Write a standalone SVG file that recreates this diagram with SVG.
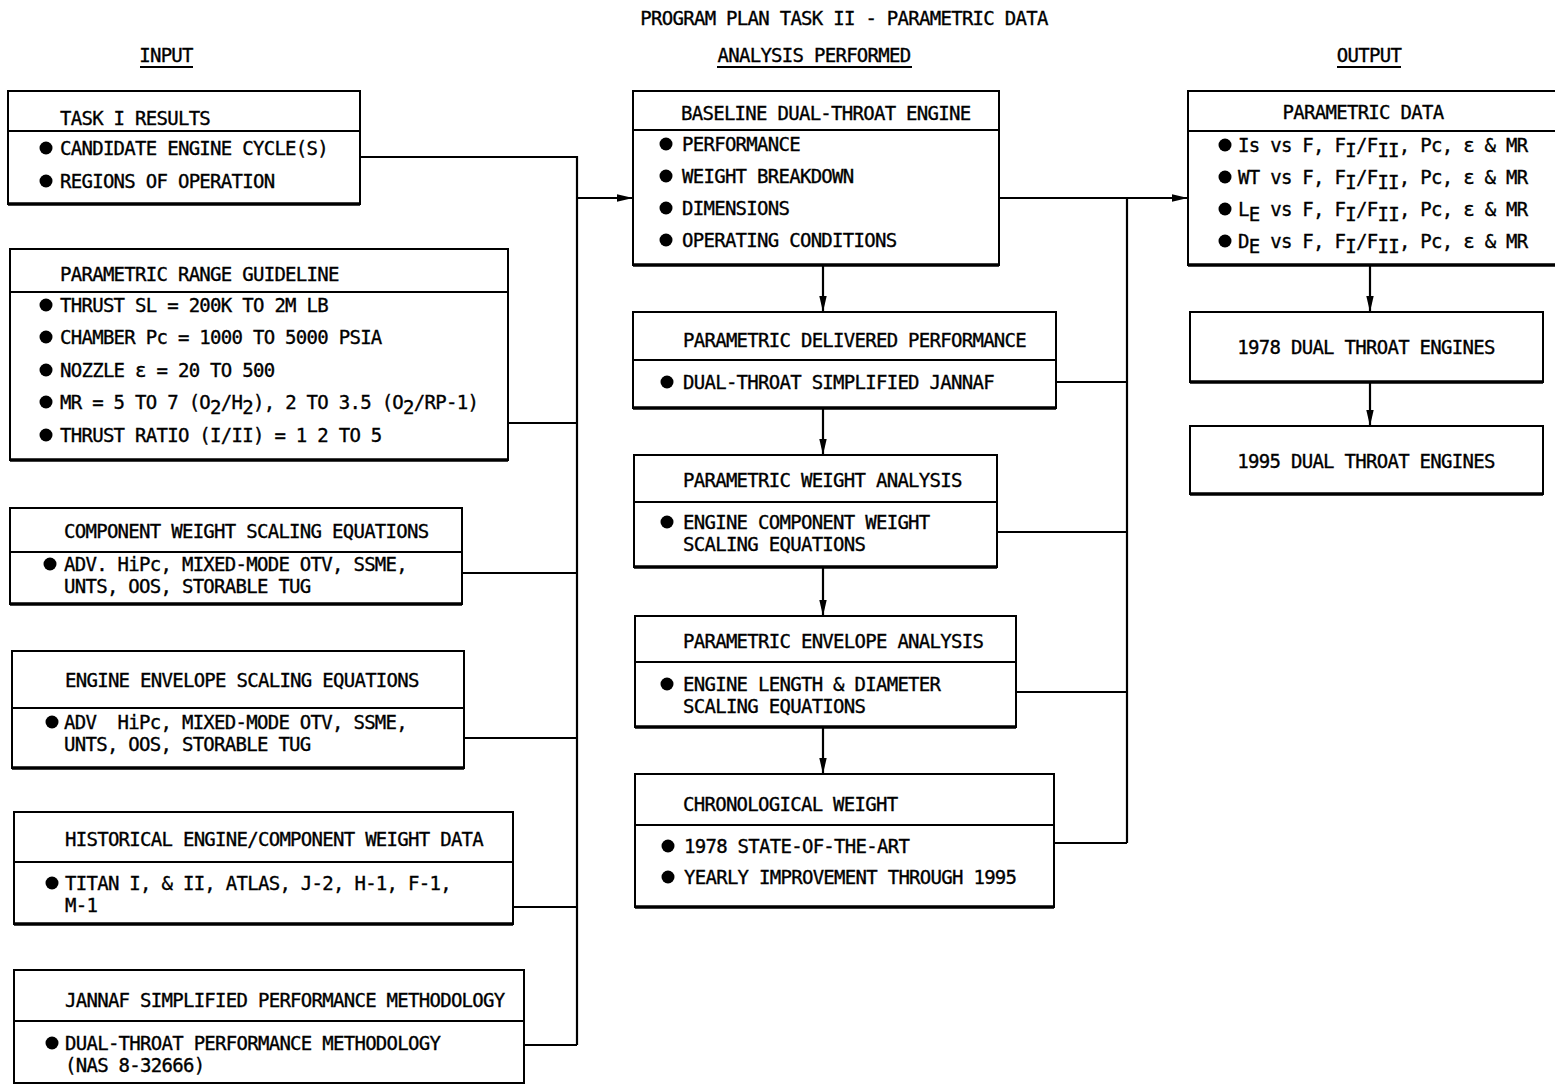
<svg xmlns="http://www.w3.org/2000/svg" width="1555" height="1085" viewBox="0 0 1555 1085">
<style>
text { font-family: "DejaVu Sans Mono", monospace; font-size: 19px; letter-spacing: -0.72px; fill: #000; stroke: #000; stroke-width: 0.35px; }
.c { text-anchor: middle; }
.box { fill: #fff; stroke: #000; stroke-width: 2; }
.dv { stroke: #000; stroke-width: 2; }
.sh { stroke: #000; stroke-width: 3.5; }
.conn { fill: none; stroke: #000; stroke-width: 2.2; }
.ul { stroke: #000; stroke-width: 1.8; }
.bul { fill: #000; }
</style>
<defs>
<marker id="ah" viewBox="0 0 16 9" refX="16" refY="4.5" markerWidth="16" markerHeight="9" markerUnits="userSpaceOnUse" orient="auto">
<path d="M0,0.8 L16,4.5 L0,8.2 z" fill="#000"/>
</marker>
</defs>
<rect width="1555" height="1085" fill="#fff"/>

<g id="headers">
<text class="c" x="844" y="25">PROGRAM PLAN TASK II - PARAMETRIC DATA</text>
<text class="c" x="166" y="62">INPUT</text>
<line class="ul" x1="140" y1="67" x2="193" y2="67"/>
<text class="c" x="814" y="62">ANALYSIS PERFORMED</text>
<line class="ul" x1="717" y1="67" x2="912" y2="67"/>
<text class="c" x="1369" y="62">OUTPUT</text>
<line class="ul" x1="1337" y1="67" x2="1401" y2="67"/>
</g>

<g id="connectors">
<polyline class="conn" points="360,157 577,157 577,1045"/>
<line class="conn" x1="508" y1="423" x2="577" y2="423"/>
<line class="conn" x1="462" y1="573" x2="577" y2="573"/>
<line class="conn" x1="464" y1="738" x2="577" y2="738"/>
<line class="conn" x1="513" y1="907" x2="577" y2="907"/>
<line class="conn" x1="524" y1="1045" x2="577" y2="1045"/>
<line class="conn" x1="577" y1="198" x2="633" y2="198" marker-end="url(#ah)"/>
<line class="conn" x1="999" y1="198" x2="1188" y2="198" marker-end="url(#ah)"/>
<line class="conn" x1="1127" y1="198" x2="1127" y2="843"/>
<line class="conn" x1="1056" y1="382" x2="1127" y2="382"/>
<line class="conn" x1="997" y1="532" x2="1127" y2="532"/>
<line class="conn" x1="1016" y1="692" x2="1127" y2="692"/>
<line class="conn" x1="1054" y1="843" x2="1127" y2="843"/>
<line class="conn" x1="823" y1="265" x2="823" y2="312" marker-end="url(#ah)"/>
<line class="conn" x1="823" y1="408" x2="823" y2="455" marker-end="url(#ah)"/>
<line class="conn" x1="823" y1="567" x2="823" y2="616" marker-end="url(#ah)"/>
<line class="conn" x1="823" y1="727" x2="823" y2="774" marker-end="url(#ah)"/>
<line class="conn" x1="1370" y1="265" x2="1370" y2="312" marker-end="url(#ah)"/>
<line class="conn" x1="1370" y1="382" x2="1370" y2="426" marker-end="url(#ah)"/>
</g>

<g id="in-task1">
<rect class="box" x="8" y="91" width="352" height="113"/>
<line class="dv" x1="8" y1="131" x2="360" y2="131"/>
<line class="sh" x1="8" y1="204" x2="360" y2="204"/>
<text x="60" y="125">TASK I RESULTS</text>
<circle class="bul" cx="46" cy="148" r="6.5"/>
<text x="60" y="155">CANDIDATE ENGINE CYCLE(S)</text>
<circle class="bul" cx="46" cy="181" r="6.5"/>
<text x="60" y="188">REGIONS OF OPERATION</text>
</g>

<g id="in-range">
<rect class="box" x="10" y="249" width="498" height="211"/>
<line class="dv" x1="10" y1="292" x2="508" y2="292"/>
<line class="sh" x1="10" y1="460" x2="508" y2="460"/>
<text x="60" y="281">PARAMETRIC RANGE GUIDELINE</text>
<circle class="bul" cx="46" cy="305" r="6.5"/>
<text x="60" y="312">THRUST SL = 200K TO 2M LB</text>
<circle class="bul" cx="46" cy="337" r="6.5"/>
<text x="60" y="344">CHAMBER Pc = 1000 TO 5000 PSIA</text>
<circle class="bul" cx="46" cy="370" r="6.5"/>
<text x="60" y="377">NOZZLE ε = 20 TO 500</text>
<circle class="bul" cx="46" cy="402" r="6.5"/>
<text x="60" y="409">MR = 5 TO 7 (O<tspan dy="5">2</tspan><tspan dy="-5">/H</tspan><tspan dy="5">2</tspan><tspan dy="-5">), 2 TO 3.5 (O</tspan><tspan dy="5">2</tspan><tspan dy="-5">/RP-1)</tspan></text>
<circle class="bul" cx="46" cy="435" r="6.5"/>
<text x="60" y="442">THRUST RATIO (I/II) = 1 2 TO 5</text>
</g>

<g id="in-weight">
<rect class="box" x="10" y="508" width="452" height="96"/>
<line class="dv" x1="10" y1="552" x2="462" y2="552"/>
<line class="sh" x1="10" y1="604" x2="462" y2="604"/>
<text x="64" y="538">COMPONENT WEIGHT SCALING EQUATIONS</text>
<circle class="bul" cx="50" cy="564" r="6.5"/>
<text x="64" y="571">ADV. HiPc, MIXED-MODE OTV, SSME,</text>
<text x="64" y="593">UNTS, OOS, STORABLE TUG</text>
</g>

<g id="in-envelope">
<rect class="box" x="12" y="651" width="452" height="117"/>
<line class="dv" x1="12" y1="708" x2="464" y2="708"/>
<line class="sh" x1="12" y1="768" x2="464" y2="768"/>
<text x="65" y="687">ENGINE ENVELOPE SCALING EQUATIONS</text>
<circle class="bul" cx="52" cy="722" r="6.5"/>
<text x="64" y="729" xml:space="preserve">ADV  HiPc, MIXED-MODE OTV, SSME,</text>
<text x="64" y="751">UNTS, OOS, STORABLE TUG</text>
</g>

<g id="in-historical">
<rect class="box" x="14" y="812" width="499" height="112"/>
<line class="dv" x1="14" y1="862" x2="513" y2="862"/>
<line class="sh" x1="14" y1="924" x2="513" y2="924"/>
<text x="65" y="846">HISTORICAL ENGINE/COMPONENT WEIGHT DATA</text>
<circle class="bul" cx="52" cy="883" r="6.5"/>
<text x="65" y="890">TITAN I, &amp; II, ATLAS, J-2, H-1, F-1,</text>
<text x="65" y="912">M-1</text>
</g>

<g id="in-jannaf">
<rect class="box" x="14" y="970" width="510" height="113"/>
<line class="dv" x1="14" y1="1021" x2="524" y2="1021"/>
<text x="65" y="1007">JANNAF SIMPLIFIED PERFORMANCE METHODOLOGY</text>
<circle class="bul" cx="52" cy="1043" r="6.5"/>
<text x="65" y="1050">DUAL-THROAT PERFORMANCE METHODOLOGY</text>
<text x="65" y="1072">(NAS 8-32666)</text>
</g>

<g id="an-baseline">
<rect class="box" x="633" y="91" width="366" height="174"/>
<line class="dv" x1="633" y1="130" x2="999" y2="130"/>
<line class="sh" x1="633" y1="265" x2="999" y2="265"/>
<text x="681" y="120">BASELINE DUAL-THROAT ENGINE</text>
<circle class="bul" cx="666" cy="144" r="6.5"/>
<text x="682" y="151">PERFORMANCE</text>
<circle class="bul" cx="666" cy="176" r="6.5"/>
<text x="682" y="183">WEIGHT BREAKDOWN</text>
<circle class="bul" cx="666" cy="208" r="6.5"/>
<text x="682" y="215">DIMENSIONS</text>
<circle class="bul" cx="666" cy="240" r="6.5"/>
<text x="682" y="247">OPERATING CONDITIONS</text>
</g>

<g id="an-performance">
<rect class="box" x="633" y="312" width="423" height="96"/>
<line class="dv" x1="633" y1="360" x2="1056" y2="360"/>
<line class="sh" x1="633" y1="408" x2="1056" y2="408"/>
<text x="683" y="347">PARAMETRIC DELIVERED PERFORMANCE</text>
<circle class="bul" cx="667" cy="382" r="6.5"/>
<text x="683" y="389">DUAL-THROAT SIMPLIFIED JANNAF</text>
</g>

<g id="an-weight">
<rect class="box" x="634" y="455" width="363" height="112"/>
<line class="dv" x1="634" y1="502" x2="997" y2="502"/>
<line class="sh" x1="634" y1="567" x2="997" y2="567"/>
<text x="683" y="487">PARAMETRIC WEIGHT ANALYSIS</text>
<circle class="bul" cx="667" cy="522" r="6.5"/>
<text x="683" y="529">ENGINE COMPONENT WEIGHT</text>
<text x="683" y="551">SCALING EQUATIONS</text>
</g>

<g id="an-envelope">
<rect class="box" x="635" y="616" width="381" height="111"/>
<line class="dv" x1="635" y1="662" x2="1016" y2="662"/>
<line class="sh" x1="635" y1="727" x2="1016" y2="727"/>
<text x="683" y="648">PARAMETRIC ENVELOPE ANALYSIS</text>
<circle class="bul" cx="667" cy="684" r="6.5"/>
<text x="683" y="691">ENGINE LENGTH &amp; DIAMETER</text>
<text x="683" y="713">SCALING EQUATIONS</text>
</g>

<g id="an-chrono">
<rect class="box" x="635" y="774" width="419" height="133"/>
<line class="dv" x1="635" y1="825" x2="1054" y2="825"/>
<line class="sh" x1="635" y1="907" x2="1054" y2="907"/>
<text x="683" y="811">CHRONOLOGICAL WEIGHT</text>
<circle class="bul" cx="668" cy="846" r="6.5"/>
<text x="684" y="853">1978 STATE-OF-THE-ART</text>
<circle class="bul" cx="668" cy="877" r="6.5"/>
<text x="684" y="884">YEARLY IMPROVEMENT THROUGH 1995</text>
</g>

<g id="out-parametric">
<rect class="box" x="1188" y="91" width="372" height="174"/>
<line class="dv" x1="1188" y1="131" x2="1560" y2="131"/>
<line class="sh" x1="1188" y1="265" x2="1560" y2="265"/>
<text class="c" x="1363" y="119">PARAMETRIC DATA</text>
<circle class="bul" cx="1225" cy="145" r="6.5"/>
<text x="1238" y="152">Is vs F, F<tspan dy="5">I</tspan><tspan dy="-5">/F</tspan><tspan dy="5">II</tspan><tspan dy="-5">, Pc, ε &amp; MR</tspan></text>
<circle class="bul" cx="1225" cy="177" r="6.5"/>
<text x="1238" y="184">WT vs F, F<tspan dy="5">I</tspan><tspan dy="-5">/F</tspan><tspan dy="5">II</tspan><tspan dy="-5">, Pc, ε &amp; MR</tspan></text>
<circle class="bul" cx="1225" cy="209" r="6.5"/>
<text x="1238" y="216">L<tspan dy="5">E</tspan><tspan dy="-5"> vs F, F</tspan><tspan dy="5">I</tspan><tspan dy="-5">/F</tspan><tspan dy="5">II</tspan><tspan dy="-5">, Pc, ε &amp; MR</tspan></text>
<circle class="bul" cx="1225" cy="241" r="6.5"/>
<text x="1238" y="248">D<tspan dy="5">E</tspan><tspan dy="-5"> vs F, F</tspan><tspan dy="5">I</tspan><tspan dy="-5">/F</tspan><tspan dy="5">II</tspan><tspan dy="-5">, Pc, ε &amp; MR</tspan></text>
</g>

<g id="out-1978">
<rect class="box" x="1190" y="312" width="353" height="70"/>
<line class="sh" x1="1190" y1="382" x2="1543" y2="382"/>
<text class="c" x="1366" y="354">1978 DUAL THROAT ENGINES</text>
</g>

<g id="out-1995">
<rect class="box" x="1190" y="426" width="353" height="68"/>
<line class="sh" x1="1190" y1="494" x2="1543" y2="494"/>
<text class="c" x="1366" y="468">1995 DUAL THROAT ENGINES</text>
</g>
</svg>
